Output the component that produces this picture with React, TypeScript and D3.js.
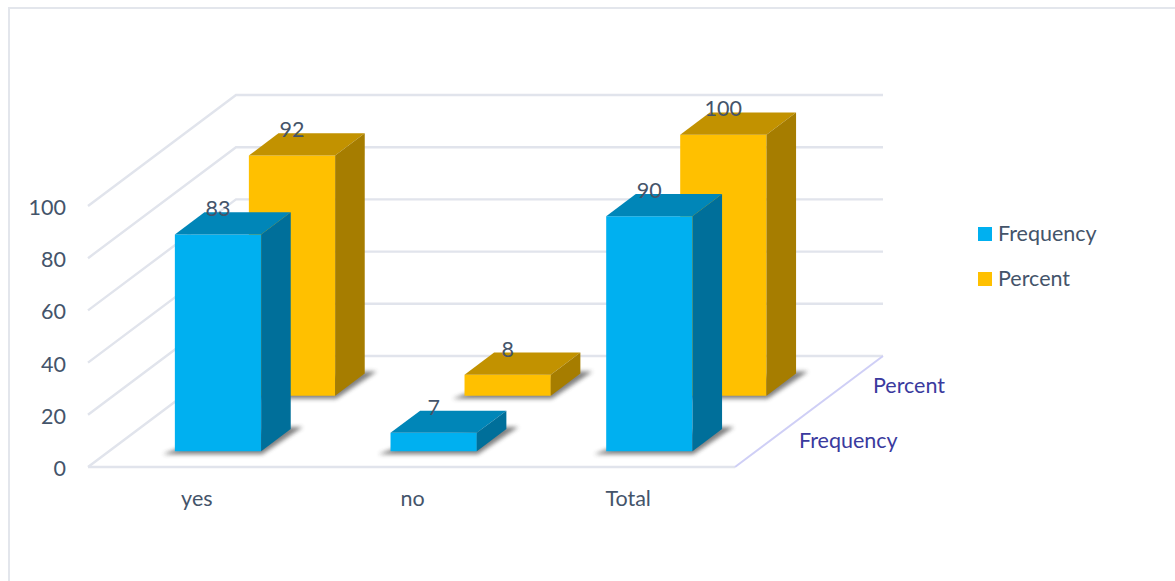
import * as d3 from "d3";

const categories = ["yes", "no", "Total"];
const seriesNames = ["Frequency", "Percent"];
const frequencyValues = [83, 7, 90];
const percentValues = [92, 8, 100];
const seriesValues = [frequencyValues, percentValues];
const valueTicks = [0, 20, 40, 60, 80, 100];

const FRONT = ["#00B0F0", "#FFC000"];
const TOP = ["#0086B8", "#C29200"];
const SIDE = ["#006F9A", "#A67D00"];
const GRID = "#E1E4EC";
const TEXT = "#44546A";
const DEPTH_TEXT = "#3A3A9E";
const FONT = "Lato, sans-serif";
const FONT_SIZE = 21.5;

// Oblique projection of the floor: depth 0 is the front edge, depth 1 the back wall.
const FLOOR_LEFT = 88;
const FLOOR_RIGHT = 735;
const FLOOR_Y = 467;
const DEPTH_DX = 148;
const DEPTH_DY = -111;

const xBand = d3.scaleBand<string>().domain(categories).range([FLOOR_LEFT + 1, FLOOR_RIGHT + 1]).paddingInner(0.6).paddingOuter(0.3);
const depthBand = d3.scaleBand<string>().domain(seriesNames).range([-0.007, 0.993]).paddingInner(0.6).paddingOuter(0.3);
const yHeight = d3.scaleLinear().domain([0, 100]).range([0, 261]);

const project = (x: number, depth: number, value: number): [number, number] => [
  x + DEPTH_DX * depth,
  FLOOR_Y + DEPTH_DY * depth - yHeight(value),
];
const poly = (pts: [number, number][]) => d3.line()(pts) + "Z";

function Bar({ category, value, seriesIndex }: { category: string; value: number; seriesIndex: number }) {
  const x0 = xBand(category)!;
  const x1 = x0 + xBand.bandwidth();
  const d0 = depthBand(seriesNames[seriesIndex])!;
  const d1 = d0 + depthBand.bandwidth();
  const a = project(x0, d0, value);
  const b = project(x1, d0, value);
  const c = project(x1, d1, value);
  const e = project(x0, d1, value);
  const f = project(x0, d0, 0);
  const g = project(x1, d0, 0);
  const h = project(x1, d1, 0);
  const shadow: [number, number][] = [
    [f[0] - 12, f[1] + 3],
    [g[0] + 1, g[1] + 3],
    [h[0] + 12, h[1] - 2],
    [h[0] - 4, h[1] - 2],
    [f[0] + 4, f[1] - 3],
  ];
  return (
    <g>
      <path d={poly(shadow)} fill="#3c3c3c" opacity={0.65} filter="url(#floorShadow)" />
      <path d={poly([a, b, g, f])} fill={FRONT[seriesIndex]} />
      <path d={poly([a, b, c, e])} fill={TOP[seriesIndex]} />
      <path d={poly([b, c, h, g])} fill={SIDE[seriesIndex]} />
      <text x={(a[0] + b[0]) / 2} y={c[1] + 4} textAnchor="middle" fontSize={FONT_SIZE} fill={TEXT} fontFamily={FONT}>
        {value}
      </text>
    </g>
  );
}

export default function App() {
  return (
    <svg width={1175} height={581} style={{ position: "absolute", left: 0, top: 0, background: "#fff" }}>
      <defs>
        <filter id="floorShadow" x="-20%" y="-50%" width="140%" height="200%">
          <feGaussianBlur stdDeviation="2" />
        </filter>
      </defs>

      {/* outer frame */}
      <path d="M9,581V8H1175" fill="none" stroke="#E3E6EC" strokeWidth={2} />

      {/* walls: each tick runs along the side wall and then across the back */}
      {valueTicks.map((t) => {
        const front = project(FLOOR_LEFT, 0, t);
        const back = project(FLOOR_LEFT, 1, t);
        const right = project(FLOOR_RIGHT, 1, t);
        return <path key={t} d={d3.line()([front, back, right])!} fill="none" stroke={GRID} strokeWidth={2.4} />;
      })}

      {/* floor front edge and right edge */}
      <path d={d3.line()([project(FLOOR_LEFT, 0, 0), project(FLOOR_RIGHT, 0, 0)])!} stroke={GRID} strokeWidth={2.4} fill="none" />
      <path d={d3.line()([project(FLOOR_RIGHT, 0, 0), project(FLOOR_RIGHT, 1, 0)])!} stroke="#CFCFF6" strokeWidth={2} fill="none" />

      {/* value axis */}
      {valueTicks.map((t) => (
        <text key={t} x={66} y={FLOOR_Y - yHeight(t) + 9} textAnchor="end" fontSize={FONT_SIZE} fill={TEXT} fontFamily={FONT}>
          {t}
        </text>
      ))}

      {/* category axis */}
      {categories.map((c) => (
        <text key={c} x={xBand(c)! + xBand.bandwidth() / 2} y={506} textAnchor="middle" fontSize={FONT_SIZE} fill={TEXT} fontFamily={FONT}>
          {c}
        </text>
      ))}

      {/* series axis along the right floor edge */}
      {seriesNames.map((s) => {
        const d = depthBand(s)! + depthBand.bandwidth() / 2;
        const [px, py] = project(FLOOR_RIGHT, d, 0);
        return (
          <text key={s} x={px + 28} y={py + 8} fontSize={FONT_SIZE} fill={DEPTH_TEXT} fontFamily={FONT}>
            {s}
          </text>
        );
      })}

      {/* bars, back row first */}
      {[1, 0].map((si) =>
        categories.map((c, ci) => <Bar key={`${si}-${c}`} category={c} value={seriesValues[si][ci]} seriesIndex={si} />)
      )}

      {/* legend */}
      {seriesNames.map((s, i) => (
        <g key={s} transform={`translate(978,${227 + i * 45})`}>
          <rect width={14} height={14} fill={FRONT[i]} />
          <text x={20} y={14} fontSize={FONT_SIZE} fill={TEXT} fontFamily={FONT}>
            {s}
          </text>
        </g>
      ))}
    </svg>
  );
}
